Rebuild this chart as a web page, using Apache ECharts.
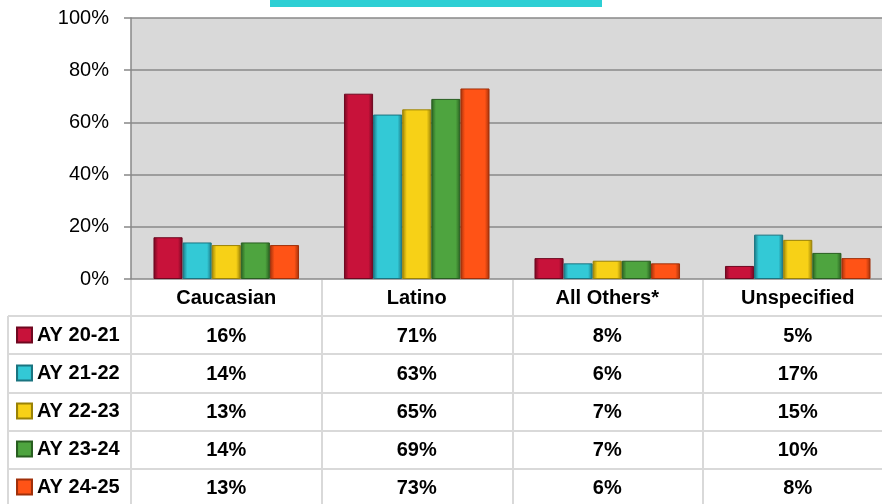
<!DOCTYPE html>
<html><head><meta charset="utf-8">
<script src="https://cdn.jsdelivr.net/npm/echarts@6/dist/echarts.min.js"></script>
<style>html,body{margin:0;padding:0;background:#fff}#c{width:882px;height:504px}</style>
</head><body><div id="c"></div>
<script>
const categories = ['Caucasian', 'Latino', 'All Others*', 'Unspecified'];
const seriesNames = ['AY 20-21', 'AY 21-22', 'AY 22-23', 'AY 23-24', 'AY 24-25'];
const ay2021 = [16, 71, 8, 5];
const ay2122 = [14, 63, 6, 17];
const ay2223 = [13, 65, 7, 15];
const ay2324 = [14, 69, 7, 10];
const ay2425 = [13, 73, 6, 8];
const yTicks = [0, 20, 40, 60, 80, 100];
const colors = ['#c8123a', '#33c9d6', '#f7d117', '#4ea43f', '#ff5316'];
const edge = ['#6e0820', '#1a7480', '#9a8206', '#285e20', '#a0300a'];
const seriesData = [ay2021, ay2122, ay2223, ay2324, ay2425];

function grad(c, e) {
  return new echarts.graphic.LinearGradient(0, 0, 1, 0, [
    {offset: 0, color: e}, {offset: 0.16, color: c}, {offset: 0.84, color: c}, {offset: 1, color: e}
  ]);
}

const chart = echarts.init(document.getElementById('c'));
const FONT = 'Liberation Sans, Arial, sans-serif';
const lineColor = '#d9d9d9';
const hLines = [316, 354, 393, 431, 469];
const vLines = [131, 322, 513, 703];
const graphics = [
  {type: 'rect', shape: {x: 270, y: 0, width: 332, height: 7}, style: {fill: '#2dcfd4'}, z: 10}
];
hLines.forEach(y => graphics.push({type: 'line', shape: {x1: 8, y1: y, x2: 882, y2: y}, style: {stroke: lineColor, lineWidth: 2}, z: 1}));
vLines.forEach(x => graphics.push({type: 'line', shape: {x1: x, y1: 280, x2: x, y2: 504}, style: {stroke: lineColor, lineWidth: 2}, z: 1}));
graphics.push({type: 'line', shape: {x1: 8, y1: 316, x2: 8, y2: 504}, style: {stroke: lineColor, lineWidth: 2}, z: 1});

chart.setOption({
  animation: false,
  textStyle: {fontFamily: FONT},
  grid: {left: 131, top: 18, width: 762, height: 261, show: true, backgroundColor: '#d9d9d9', borderWidth: 0,
         containLabel: false, outerBoundsMode: 'none'},
  legend: {
    orient: 'vertical', left: 16, top: 325, padding: 0, itemWidth: 15, itemHeight: 15, itemGap: 18,
    icon: 'rect', selectedMode: false,
    textStyle: {fontSize: 20, fontWeight: 'bold', color: '#000', fontFamily: FONT},
    data: seriesNames
  },
  xAxis: {
    type: 'category', data: categories,
    axisLine: {show: false}, axisTick: {show: false},
    axisLabel: {
      interval: 0, margin: 0, lineHeight: 38, fontSize: 20, fontWeight: 'bold', color: '#000',
      hideOverlap: false,
      formatter: (v, i) => [v].concat(seriesData.map(s => s[i] + '%')).join('\n')
    }
  },
  yAxis: {
    type: 'value', min: 0, max: 100, interval: 20,
    axisLine: {show: true, lineStyle: {color: '#888', width: 1.5}},
    axisTick: {show: true, length: 7, lineStyle: {color: '#888', width: 1.5}},
    splitLine: {lineStyle: {color: '#888', width: 1.5}},
    axisLabel: {margin: 22, fontSize: 20, color: '#000', formatter: v => v + '%'}
  },
  color: colors,
  series: seriesData.map((d, k) => ({
    name: seriesNames[k], type: 'bar', data: d, barGap: 0, barCategoryGap: '23.6%',
    itemStyle: {color: grad(colors[k], edge[k]), borderColor: edge[k], borderWidth: 1}
  })),
  graphic: graphics
});
</script></body></html>
